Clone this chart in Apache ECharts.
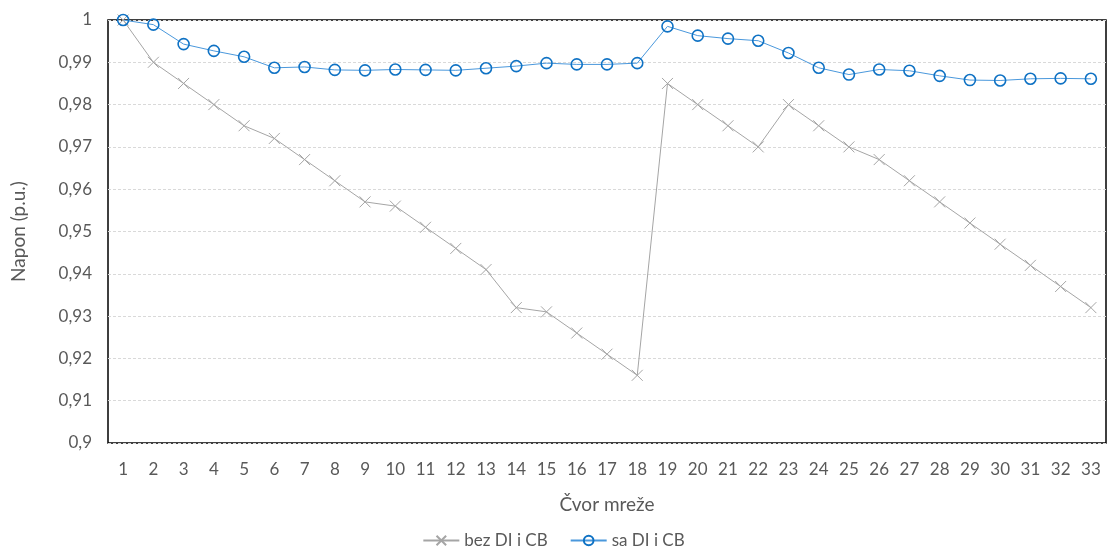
<!DOCTYPE html>
<html><head><meta charset="utf-8">
<script src="https://cdn.jsdelivr.net/npm/echarts@6/dist/echarts.min.js"></script>
<style>html,body{margin:0;padding:0;background:#fff}#c{width:1107px;height:554px}</style>
</head><body><div id="c"></div>
<script>
const categories = ['1','2','3','4','5','6','7','8','9','10','11','12','13','14','15','16','17','18','19','20','21','22','23','24','25','26','27','28','29','30','31','32','33'];
const bezDIiCB = [1.0,0.99,0.985,0.98,0.975,0.972,0.967,0.962,0.957,0.956,0.951,0.946,0.941,0.932,0.931,0.926,0.921,0.916,0.985,0.98,0.975,0.97,0.98,0.975,0.97,0.967,0.962,0.957,0.952,0.947,0.942,0.937,0.932];
const saDIiCB = [1.0,0.9989,0.9943,0.9927,0.9913,0.9887,0.9889,0.9882,0.9881,0.9883,0.9882,0.9881,0.9886,0.9891,0.9898,0.9895,0.9895,0.9898,0.9985,0.9963,0.9956,0.9951,0.9922,0.9887,0.9871,0.9883,0.988,0.9868,0.9858,0.9857,0.9861,0.9862,0.9861];
const seriesNames = ['bez DI i CB','sa DI i CB'];
const font = 'Lato, "Open Sans", sans-serif';
const chart = echarts.init(document.getElementById('c'));
chart.setOption({
  animation:false,
  grid:{left:108,right:1,top:20,bottom:111,show:true,borderColor:'#000',borderWidth:1.5,containLabel:false},
  xAxis:{type:'category',data:categories,boundaryGap:true,
    axisLine:{show:false},axisTick:{show:false},
    axisLabel:{color:'#595959',fontSize:17,fontFamily:font,margin:18,interval:0},
    name:'Čvor mreže',nameLocation:'middle',nameGap:52,
    nameTextStyle:{color:'#595959',fontSize:19,fontFamily:font}},
  yAxis:{type:'value',min:0.9,max:1,interval:0.01,
    axisLine:{show:false},axisTick:{show:false},
    splitLine:{lineStyle:{color:'#d9d9d9',type:[3,2],width:1}},
    axisLabel:{color:'#595959',fontSize:17,fontFamily:font,margin:16,
      formatter:v=>String(+v.toFixed(2)).replace('.',',')},
    name:'Napon (p.u.)',nameLocation:'middle',nameGap:80,nameRotate:90,
    nameTextStyle:{color:'#595959',fontSize:19,fontFamily:font}},
  legend:{bottom:0,left:'center',itemWidth:36,itemHeight:12,itemGap:22,
    textStyle:{color:'#595959',fontSize:17,fontFamily:font},
    data:seriesNames},
  series:[
    {name:seriesNames[0],type:'line',data:bezDIiCB,showAllSymbol:true,
      symbol:'path://M0,0L10,10M10,0L0,10',symbolSize:11,
      lineStyle:{color:'#a5a5a5',width:1},
      itemStyle:{color:'none',borderColor:'#a5a5a5',borderWidth:1}},
    {name:seriesNames[1],type:'line',data:saDIiCB,showAllSymbol:true,
      symbol:'circle',symbolSize:11,
      lineStyle:{color:'#4a98dc',width:1},
      itemStyle:{color:'rgba(255,255,255,0)',borderColor:'#0f72c4',borderWidth:1.6}}
  ]
});
</script></body></html>
